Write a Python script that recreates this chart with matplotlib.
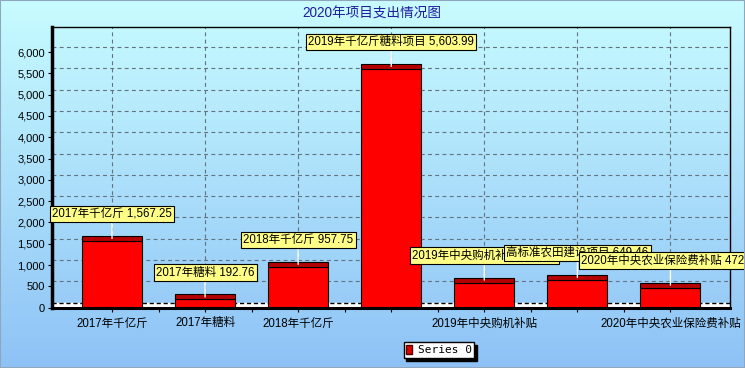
import numpy as np
import matplotlib
matplotlib.use("Agg")
import matplotlib.pyplot as plt
from matplotlib.patches import Rectangle, Patch
from matplotlib.colors import LinearSegmentedColormap
from matplotlib.ticker import FuncFormatter

plt.rcParams['font.family'] = ['Liberation Sans', 'Noto Sans CJK SC', 'DejaVu Sans']

# data
categories = ['2017年千亿斤', '2017年糖料', '2018年千亿斤', '2019年千亿斤糖料项目',
              '2019年中央购机补贴', '高标准农田建设项目', '2020年中央农业保险费补贴']
values = [1567.25, 192.76, 957.75, 5603.99, 590.00, 649.46, 472.36]
# which category labels are visible on the x axis (others hidden by overlap)
shown = [True, True, True, False, True, False, True]
yticks = np.arange(0, 6001, 500)
title = '2020年项目支出情况图'
series_name = 'Series 0'

W, H = 745, 368
fig = plt.figure(figsize=(W / 100, H / 100), dpi=100)

# background gradient
bg = fig.add_axes([0, 0, 1, 1], zorder=-10)
cmap = LinearSegmentedColormap.from_list('bg', ['#c8fcff', '#8ec2f6'])
bg.imshow(np.linspace(0, 1, 256).reshape(-1, 1), aspect='auto', cmap=cmap,
          extent=[0, 1, 0, 1])
bg.axis('off')
fig.patches.append(Rectangle((0, 0), 1, 1, transform=fig.transFigure, fill=False,
                             ec='#8fa6bd', lw=1.5))

# plot area in pixels
x0, x1, ytop, ybot = 52, 730, 27.3, 307.7
ax = fig.add_axes([x0 / W, (H - ybot) / H, (x1 - x0) / W, (ybot - ytop) / H])
ax.set_facecolor('none')

ymax = 6580
ax.set_ylim(0, ymax)
ax.set_xlim(-0.645, 6.64)
px = ymax / (ybot - ytop)      # data units per pixel
depth = 5 * px                 # 3d depth of the chart

x = np.arange(len(categories))

# floor
ax.axhspan(0, depth, color='white', zorder=1)
ax.axhline(depth, color='black', lw=1, ls=(0, (3, 2)), zorder=1.5)

# back-wall grid
ax.hlines(yticks[1:] + depth, -0.645, 6.64, color='#62727f', lw=0.8,
          linestyles=(0, (3.5, 3)), zorder=1)
ax.vlines(x, depth, ymax, color='#62727f', lw=0.8, linestyles=(0, (3.5, 3)), zorder=1)

bw = 0.645
ax.bar(x, values, width=bw, color='#ff0000', edgecolor='black', lw=0.8, zorder=3)
ax.bar(x, [depth] * len(x), bottom=values, width=bw, color='#b40000',
       edgecolor='black', lw=0.8, zorder=3)

# value labels
for i, v in enumerate(values):
    ax.annotate(f'{categories[i]} {v:,.2f}', xy=(i, v + 2.5 * px),
                xytext=(0, 18.5 * 0.72), textcoords='offset points',
                ha='center', va='bottom', fontsize=8.3, color='black',
                bbox=dict(boxstyle='square,pad=0.2', fc='#ffff88', ec='black', lw=0.8),
                arrowprops=dict(arrowstyle='-', color='white', lw=1, shrinkA=0, shrinkB=0),
                annotation_clip=False, zorder=5 + i)

# axes
ax.set_yticks(yticks)
ax.yaxis.set_major_formatter(FuncFormatter(lambda v, p: f'{v:,.0f}'))
ax.set_xticks(x)
ax.set_xticklabels([c if s else '' for c, s in zip(categories, shown)])
ax.set_xticks(x[:-1] + 0.5, minor=True)
ax.tick_params(axis='y', length=3, width=0.8, pad=2, labelsize=8)
ax.tick_params(axis='x', which='both', length=3, width=0.8, pad=4, labelsize=8.3)

ax.spines['left'].set_linewidth(2.5)
ax.spines['bottom'].set_linewidth(2.2)
ax.spines['top'].set_linewidth(1)
ax.spines['right'].set_linewidth(1)
for s in ax.spines.values():
    s.set_zorder(4)

fig.text(372 / W, 1 - 14 / H, title, ha='center', va='center', fontsize=9.8, color='#1e1ea0')

fig.legend(handles=[Patch(fc='#e00000', ec='#500000')], labels=[series_name],
           loc='center', bbox_to_anchor=(439 / W, 1 - 350 / H), fancybox=False,
           shadow={'facecolor': 'black', 'edgecolor': 'black', 'alpha': 1},
           edgecolor='black', framealpha=1, prop=dict(family='DejaVu Sans Mono', size=8),
           handlelength=0.5, handleheight=0.9, handletextpad=0.5, borderpad=0.25,
           borderaxespad=0)

fig.savefig('out.png', dpi=100)
